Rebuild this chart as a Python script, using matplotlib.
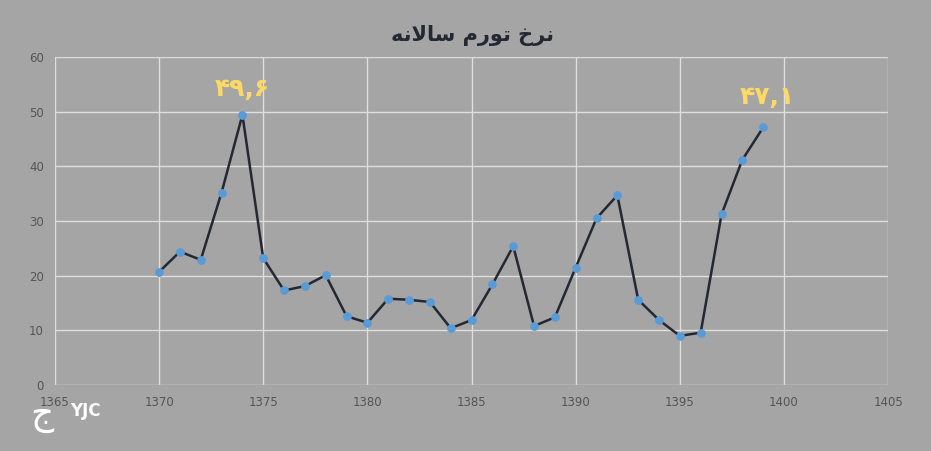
import matplotlib
matplotlib.use("Agg")
import matplotlib.pyplot as plt

# annual inflation rate (Iranian calendar years)
years = [1370, 1371, 1372, 1373, 1374, 1375, 1376, 1377, 1378, 1379,
         1380, 1381, 1382, 1383, 1384, 1385, 1386, 1387, 1388, 1389,
         1390, 1391, 1392, 1393, 1394, 1395, 1396, 1397, 1398, 1399]
rates = [20.7, 24.4, 22.9, 35.2, 49.4, 23.2, 17.3, 18.1, 20.1, 12.6,
         11.4, 15.8, 15.6, 15.2, 10.4, 11.9, 18.4, 25.4, 10.8, 12.4,
         21.5, 30.5, 34.7, 15.6, 11.9, 9.0, 9.6, 31.2, 41.2, 47.1]
xticks = [1365, 1370, 1375, 1380, 1385, 1390, 1395, 1400, 1405]
yticks = [0, 10, 20, 30, 40, 50, 60]

# title "نرخ تورم سالانه" in shaped presentation forms, visual order
title = "\ufeea\ufee7\ufefb\ufe8e\ufeb3 \ufee1\ufead\ufeee\ufe97 \ufea5\ufeae\ufee7"
label_peak = "\u06f4\u06f9,\u06f6"   # ۴۹,۶
label_last = "\u06f4\u06f7,\u06f1"   # ۴۷,۱

bg = "#a5a5a5"
fig = plt.figure(figsize=(9.31, 4.51), dpi=100, facecolor=bg)
ax = fig.add_axes([0.059, 0.146, 0.895, 0.728], facecolor=bg)

ax.plot(years, rates, color="#232833", linewidth=1.8, zorder=3)
ax.scatter(years, rates, color="#5b9bd5", s=28, zorder=4)

ax.set_xlim(1365, 1405)
ax.set_ylim(0, 60)
ax.set_xticks(xticks)
ax.set_yticks(yticks)
ax.grid(True, color="#dedede", linewidth=1)
ax.set_axisbelow(True)
for s in ax.spines.values():
    s.set_visible(False)
ax.tick_params(length=0, labelsize=8.5, labelcolor="#555555", pad=8)

ax.text(1374, 54.2, label_peak, ha="center", va="center", fontsize=18,
        fontweight="bold", color="#ffd966", family=["DejaVu Sans"])
ax.text(1399.2, 52.7, label_last, ha="center", va="center", fontsize=18,
        fontweight="bold", color="#ffd966", family=["DejaVu Sans"])

fig.text(0.507, 0.922, title, ha="center", va="center", fontsize=15,
         fontweight="bold", color="#232833", family=["DejaVu Sans"])

# logo
fig.text(0.045, 0.078, "\ufe9d", ha="center", va="center", fontsize=26,
         color="white", family=["DejaVu Sans"])
fig.text(0.075, 0.088, "YJC", ha="left", va="center", fontsize=12,
         fontweight="bold", color="white")

fig.savefig("out.png", dpi=100, facecolor=bg)
